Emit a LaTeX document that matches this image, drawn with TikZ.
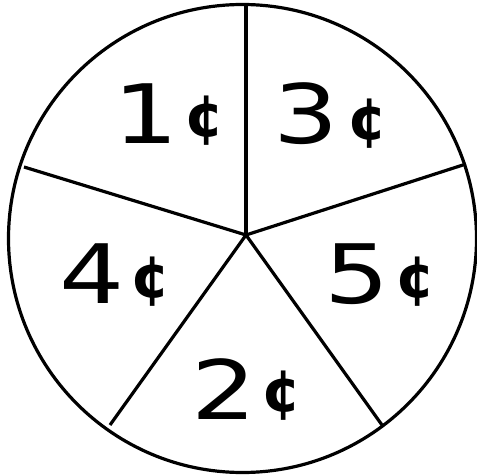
\documentclass[tikz,border=0pt]{standalone}
\usepackage{fontspec}
\setmainfont{DejaVu Sans}
\begin{document}
\begin{tikzpicture}[x=1pt,y=-1pt,
  spoke/.style={line width=3.2pt},
  digit/.style={font=\fontsize{82}{82}\selectfont, inner sep=0pt, anchor=center, xscale=1.25},
  cent/.style={font=\fontsize{58}{58}\selectfont\bfseries, inner sep=0pt, anchor=center}]
\useasboundingbox (0,0) rectangle (477,476);
\fill[white] (0,0) rectangle (477,476);
\coordinate (c) at (246,235);
\coordinate (p1) at (246,3);
\coordinate (p2) at (466,164);
\coordinate (p3) at (382,425);
\coordinate (p4) at (110,425);
\coordinate (p5) at (24,167);
\draw[spoke] (242.5,238.5) circle[radius=234];
\foreach \p in {p1,p2,p3,p4,p5} \draw[spoke] (c) -- (\p);
\node[digit] (d1) at (146,114) {1};
\node[cent] (c1) at (205,121) {¢};
\node[digit] (d3) at (306,114) {3};
\node[cent] (c3) at (368,124) {¢};
\node[digit] (d4) at (92,274) {4};
\node[cent] (c4) at (151,282) {¢};
\node[digit] (d5) at (357,274) {5};
\node[cent] (c5) at (416,282) {¢};
\node[digit] (d2) at (224,389) {2};
\node[cent] (c2) at (282,396) {¢};
\end{tikzpicture}
\end{document}
